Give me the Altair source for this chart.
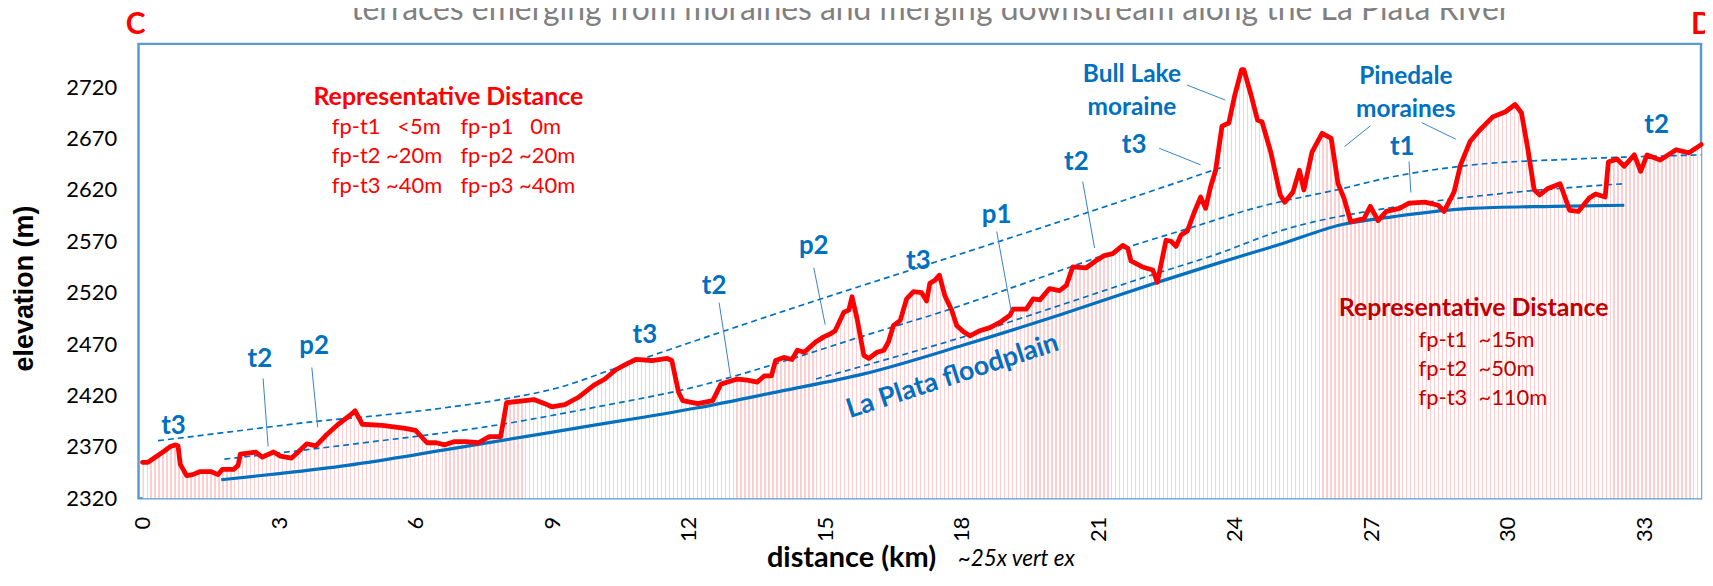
import altair as alt
import pandas as pd

# ---------------- data ----------------
profile_km = [0.0, 0.12, 0.48, 0.6, 0.73, 0.78, 0.83, 0.97, 1.1, 1.27,
              1.5, 1.66, 1.75, 2.0, 2.1, 2.15, 2.49, 2.63, 2.88, 3.03,
              3.27, 3.42, 3.61, 3.81, 4.05, 4.3, 4.54, 4.67, 4.83, 5.27,
              5.77, 6.0, 6.25, 6.45, 6.64, 6.84, 7.1, 7.38, 7.62, 7.87,
              8.0, 8.4, 8.6, 8.84, 8.99, 9.28, 9.57, 9.92, 10.16, 10.4,
              10.65, 10.84, 11.19, 11.53, 11.63, 11.78, 11.87, 12.2, 12.53, 12.71,
              13.07, 13.29, 13.51, 13.66, 13.82, 13.91, 14.09, 14.27, 14.39, 14.54,
              14.79, 14.97, 15.12, 15.22, 15.41, 15.52, 15.59, 15.7, 15.85, 15.96,
              16.14, 16.29, 16.39, 16.5, 16.65, 16.79, 16.94, 17.12, 17.23, 17.3,
              17.41, 17.51, 17.63, 17.78, 17.89, 18.04, 18.18, 18.4, 18.62, 18.84,
              19.06, 19.13, 19.42, 19.57, 19.72, 19.93, 20.15, 20.3, 20.44, 20.73,
              20.95, 21.13, 21.32, 21.54, 21.65, 21.72, 21.97, 22.2, 22.3, 22.49,
              22.6, 22.71, 22.82, 22.96, 23.1, 23.25, 23.36, 23.47, 23.58, 23.72,
              23.87, 24.0, 24.15, 24.2, 24.36, 24.5, 24.6, 24.79, 25.0, 25.1,
              25.28, 25.42, 25.52, 25.7, 25.92, 26.12, 26.27, 26.4, 26.55, 26.84,
              26.98, 27.15, 27.33, 27.62, 27.83, 28.18, 28.47, 28.6, 28.82, 28.96,
              29.17, 29.38, 29.67, 29.95, 30.16, 30.3, 30.44, 30.58, 30.7, 30.87,
              31.15, 31.36, 31.55, 31.79, 31.93, 32.14, 32.21, 32.4, 32.56, 32.78,
              32.92, 33.06, 33.35, 33.7, 33.98, 34.25]
profile_elev = [2355, 2355, 2366, 2370, 2372, 2371, 2353, 2342, 2343, 2346,
                2346, 2343, 2348, 2348, 2352, 2363, 2365, 2360, 2365, 2361,
                2359, 2365, 2373, 2371, 2382, 2392, 2400, 2405, 2392, 2391,
                2388, 2386, 2374, 2374, 2372, 2375, 2375, 2374, 2380, 2380,
                2413, 2415, 2416, 2412, 2409, 2411, 2418, 2430, 2436, 2445,
                2451, 2455, 2454, 2456, 2454, 2423, 2415, 2412, 2415, 2431,
                2436, 2435, 2433, 2439, 2439, 2454, 2457, 2455, 2464, 2462,
                2472, 2477, 2480, 2483, 2501, 2503, 2516, 2495, 2459, 2456,
                2462, 2464, 2472, 2488, 2493, 2514, 2521, 2520, 2512, 2529,
                2532, 2537, 2517, 2503, 2488, 2482, 2478, 2483, 2486, 2491,
                2498, 2504, 2504, 2514, 2513, 2524, 2522, 2527, 2545, 2544,
                2551, 2556, 2558, 2566, 2563, 2551, 2545, 2542, 2530, 2571,
                2570, 2565, 2576, 2580, 2597, 2613, 2602, 2623, 2639, 2682,
                2685, 2712, 2737, 2737, 2712, 2688, 2686, 2657, 2615, 2608,
                2618, 2639, 2620, 2657, 2675, 2670, 2626, 2612, 2589, 2592,
                2604, 2590, 2599, 2602, 2607, 2608, 2605, 2599, 2618, 2644,
                2667, 2678, 2691, 2696, 2703, 2695, 2660, 2620, 2615, 2621,
                2626, 2600, 2599, 2612, 2616, 2613, 2647, 2650, 2643, 2654,
                2638, 2654, 2649, 2659, 2656, 2664]

floodplain_km = [1.73, 3.0, 4.5, 6.64, 9.5, 12.2, 14.0, 15.85, 18.04, 20.2,
                 22.3, 23.58, 25.0, 26.34, 27.5, 29.17, 31.0, 32.56]
floodplain_elev = [2338, 2344, 2352, 2367, 2388, 2408, 2424, 2441, 2469, 2499,
                   2530, 2548, 2567, 2586, 2594, 2602, 2604, 2605]

t1_km = [14.8, 16.5, 18.04, 19.5, 22.3, 23.58, 24.92, 27.76, 30.0, 32.56]
t1_elev = [2436, 2457, 2477, 2498, 2539, 2557, 2579, 2605, 2617, 2626]

t2_km = [1.8, 4.5, 7.9, 10.0, 12.2, 14.0, 15.85, 17.75, 19.5, 21.7,
         22.95, 24.5, 26.34, 27.5, 29.17, 31.5, 34.25]
t2_elev = [2358, 2372, 2392, 2409, 2429, 2452, 2478, 2504, 2531, 2565,
           2582, 2603, 2621, 2633, 2644, 2650, 2654]

t3_km = [0.34, 2.0, 3.86, 5.3, 6.64, 8.0, 9.09, 10.55, 12.2, 14.5, 17.3, 20.7, 23.72]
t3_elev = [2376, 2385, 2395, 2401, 2408, 2417, 2427, 2449, 2474, 2508, 2548, 2597, 2642]

x_ticks = [0, 3, 6, 9, 12, 15, 18, 21, 24, 27, 30, 33]
y_ticks = [2320, 2370, 2420, 2470, 2520, 2570, 2620, 2670, 2720]

NB = "\u00a0"
left_box_title = "Representative Distance"
left_box_col1 = ["fp-t1" + NB * 3 + "<5m", "fp-t2 ~20m", "fp-t3 ~40m"]
left_box_col2 = ["fp-p1" + NB * 3 + "0m", "fp-p2 ~20m", "fp-p3 ~40m"]
right_box_title = "Representative Distance"
right_box_lines = ["fp-t1" + NB * 2 + "~15m", "fp-t2" + NB * 2 + "~50m", "fp-t3" + NB * 2 + "~110m"]
chart_title = "terraces emerging from moraines and merging downstream along the La Plata River"

# ---------------- styles ----------------
BLUE = "#0070c0"
LEADER = "#3a82c8"
RED = "#ff0000"
DARKRED = "#c00000"
PINK = "#fbcfcf"
FONT = "Lato"

xs = alt.Scale(domain=[-0.0876, 34.246], nice=False, zero=False)
ys = alt.Scale(domain=[2320, 2762], nice=False, zero=False)

prof = pd.DataFrame({"km": profile_km, "elev": profile_elev})
fp = pd.DataFrame({"km": floodplain_km, "elev": floodplain_elev})
t1 = pd.DataFrame({"km": t1_km, "elev": t1_elev})
t2 = pd.DataFrame({"km": t2_km, "elev": t2_elev})
t3 = pd.DataFrame({"km": t3_km, "elev": t3_elev})
one = pd.DataFrame({"a": [0]})

# striped fill imitating the thin column bars under the profile
N = 391
stops = []
for i in range(N):
    a = i / N
    b = (i + 0.32) / N
    c = min((i + 1) / N, 1.0)
    stops += [alt.GradientStop(offset=a, color=PINK),
              alt.GradientStop(offset=b, color=PINK),
              alt.GradientStop(offset=b, color="#ffffff"),
              alt.GradientStop(offset=c, color="#ffffff")]

x_axis = alt.Axis(values=x_ticks, format="d", title="distance (km)", labelAngle=270,
                  labelAlign="right", labelBaseline="middle", labelPadding=18,
                  labelFont=FONT, labelFontSize=22, labelColor="black",
                  labelOverlap=False, labelFlush=False,
                  ticks=False, domain=False, grid=False,
                  titleFont=FONT, titleFontSize=29, titleFontWeight="bold",
                  titleColor="black", titleX=715, titleY=68,
                  titleAlign="center", titleBaseline="alphabetic")
y_axis = alt.Axis(values=y_ticks, format="d", title="elevation (m)",
                  labelFont=FONT, labelFontSize=22, labelColor="black", labelPadding=22,
                  ticks=False, domain=False, grid=False,
                  titleFont="Liberation Sans", titleFontSize=27, titleFontWeight="bold",
                  titleColor="black", titleX=-114, titleY=245, titleAngle=270,
                  titleAlign="center", titleBaseline="middle")

area = alt.Chart(prof).mark_area(
    color=alt.Gradient(gradient="linear", stops=stops, x1=0, x2=1, y1=0, y2=0)
).encode(
    x=alt.X("km:Q", scale=xs, axis=x_axis),
    y=alt.Y("elev:Q", scale=ys, axis=y_axis),
    y2=alt.datum(2320),
)

def dashed(df):
    return alt.Chart(df).mark_line(color=BLUE, strokeWidth=1.7, strokeDash=[6, 4],
                                   interpolate="monotone").encode(x="km:Q", y="elev:Q")

flood = alt.Chart(fp).mark_line(color=BLUE, strokeWidth=3.2, interpolate="monotone").encode(
    x="km:Q", y="elev:Q")
red = alt.Chart(prof).mark_line(color=RED, strokeWidth=4.8, strokeJoin="round",
                                strokeCap="round").encode(x="km:Q", y="elev:Q")


def label(text, km, elev, size, color=BLUE, weight="bold", align="center",
          angle=None, style=None, font=FONT):
    kw = dict(text=text, fontSize=size, color=color, fontWeight=weight,
              align=align, baseline="middle", font=font)
    if angle is not None:
        kw["angle"] = angle
    if style is not None:
        kw["fontStyle"] = style
    return alt.Chart(one).mark_text(**kw).encode(x=alt.datum(km), y=alt.datum(elev))


def pixel_text(text, px, py, size, color, weight="bold", align="center",
               baseline="alphabetic", style=None, font=FONT):
    kw = dict(text=text, fontSize=size, color=color, fontWeight=weight,
              align=align, baseline=baseline, font=font)
    if style is not None:
        kw["fontStyle"] = style
    return alt.Chart(one).mark_text(**kw).encode(x=alt.value(px), y=alt.value(py))


def leader(k1, e1, k2, e2):
    return alt.Chart(one).mark_rule(color=LEADER, strokeWidth=1).encode(
        x=alt.datum(k1), y=alt.datum(e1), x2=alt.datum(k2), y2=alt.datum(e2))


layers = [area, dashed(t3), dashed(t2), dashed(t1), flood, red]

# leader lines
layers += [
    leader(2.65, 2436.5, 2.76, 2370.5),
    leader(3.72, 2447.2, 3.85, 2388.9),
    leader(12.67, 2510.3, 12.92, 2438.4),
    leader(14.75, 2544.3, 15.0, 2488.9),
    leader(18.77, 2579.5, 19.09, 2501.8),
    leader(20.66, 2628.0, 20.92, 2563.4),
    leader(22.34, 2660.5, 23.25, 2644.3),
    leader(22.95, 2722.0, 23.79, 2707.4),
    leader(26.98, 2682.2, 26.41, 2662.0),
    leader(28.11, 2685.4, 28.86, 2669.2),
    leader(27.83, 2647.5, 27.87, 2617.4),
]

# blue terrace labels
layers += [
    label("t3", 0.68, 2390, 26),
    label("t2", 2.58, 2455, 26),
    label("p2", 3.77, 2467.6, 26),
    label("t3", 11.04, 2479.2, 26),
    label("t2", 12.56, 2526.1, 26),
    label("p2", 14.75, 2565, 26),
    label("t3", 17.05, 2550.4, 26),
    label("p1", 18.77, 2595.7, 26),
    label("t2", 20.52, 2647.5, 26),
    label("t3", 21.79, 2663.7, 26),
    label("t1", 27.68, 2662, 26),
    label("t2", 33.27, 2683.1, 26),
    label("Bull Lake", 21.74, 2731.7, 24.5),
    label("moraine", 21.74, 2699.6, 24.5),
    label("Pinedale", 27.76, 2729.7, 24.5),
    label("moraines", 27.76, 2697.7, 24.5),
    label("La Plata floodplain", 17.8, 2438.5, 27, angle=342),
]

# red boxes
layers += [label(left_box_title, 6.72, 2710.3, 25, color=RED)]
for txt, el in zip(left_box_col1, [2681.2, 2653.0, 2623.9]):
    layers.append(label(txt, 4.16, el, 22, color=RED, weight="normal", align="left"))
for txt, el in zip(left_box_col2, [2681.2, 2653.0, 2623.9]):
    layers.append(label(txt, 6.985, el, 22, color=RED, weight="normal", align="left"))
layers += [label(right_box_title, 29.25, 2505.4, 25, color=DARKRED)]
for txt, el in zip(right_box_lines, [2474.4, 2446.2, 2417.1]):
    layers.append(label(txt, 28.04, el, 22, color=DARKRED, weight="normal", align="left"))

# texts outside the plot area
layers += [
    pixel_text("C", -3, -10, 30, RED),
    pixel_text("D", 1558, -10, 30, RED, align="left"),
    pixel_text(chart_title, 795, -24, 32, "#808080", weight="normal"),
    pixel_text("~25x vert ex", 822, 524, 22.5, "black", weight="normal", align="left",
               style="italic"),
]

chart = alt.layer(*layers).properties(
    width=1568, height=456,
    autosize=alt.AutoSizeParams(type="none"),
    padding={"left": 131, "top": 35, "right": 4, "bottom": 74},
    background="white",
).configure_view(stroke="#5b9bd5", strokeWidth=2.5)

chart.save("out.html", embed_options={"renderer": "svg", "actions": False})
